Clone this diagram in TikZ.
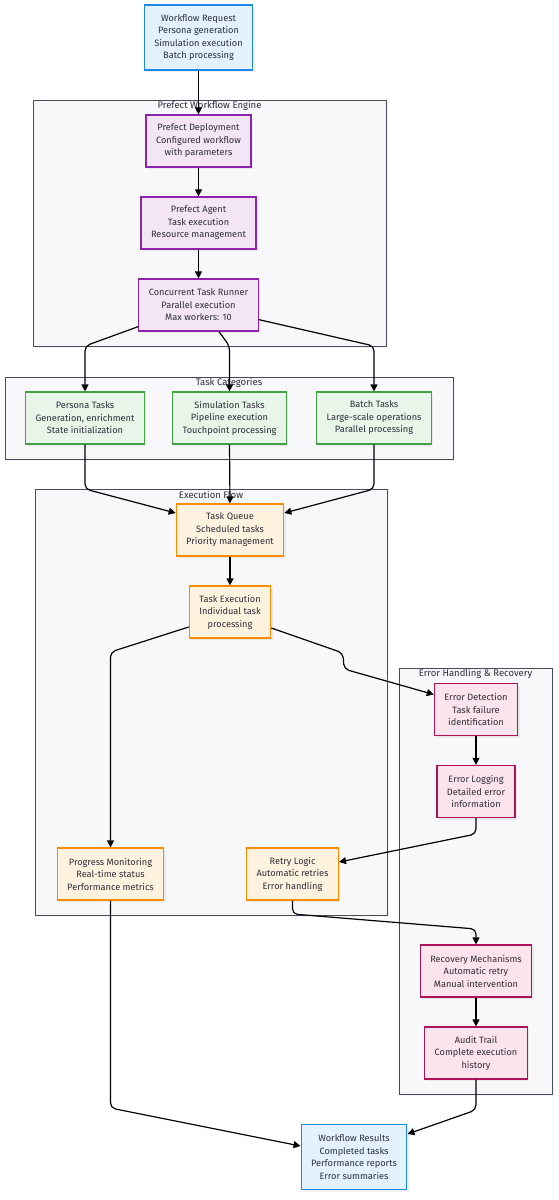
\documentclass[tikz,border=0pt]{standalone}
\usepackage{fontspec}
\setmainfont{Fira Sans}
\usetikzlibrary{arrows.meta,shadows}

\definecolor{bluefill}{HTML}{E3F2FD}
\definecolor{blueline}{HTML}{1E88E5}
\definecolor{purplefill}{HTML}{F3E5F5}
\definecolor{purpleline}{HTML}{8E24AA}
\definecolor{greenfill}{HTML}{E8F5E9}
\definecolor{greenline}{HTML}{43A047}
\definecolor{orangefill}{HTML}{FFF3E0}
\definecolor{orangeline}{HTML}{FB8C00}
\definecolor{pinkfill}{HTML}{FCE4EC}
\definecolor{pinkline}{HTML}{AD1457}
\definecolor{clusterfill}{HTML}{F8F8FB}
\definecolor{clusterline}{HTML}{4A4A60}
\definecolor{textgray}{HTML}{2E2E3A}

\begin{document}
\begin{tikzpicture}[
			x=1pt, y=-1pt, node distance=82pt,
			base/.style={draw, line width=1.2pt, align=center, text=textgray, font=\fontsize{9.2}{12.5}\selectfont, inner xsep=10pt, minimum height=52pt, drop shadow={shadow xshift=2pt, shadow yshift=-2pt, opacity=0.12}},
			endpoint/.style={base, fill=bluefill, draw=blueline, minimum height=65pt},
			engine/.style={base, fill=purplefill, draw=purpleline},
			category/.style={base, fill=greenfill, draw=greenline},
			stage/.style={base, fill=orangefill, draw=orangeline},
			recover/.style={base, fill=pinkfill, draw=pinkline},
			cluster/.style={draw=clusterline, fill=clusterfill, line width=1pt, drop shadow={shadow xshift=2pt, shadow yshift=-2pt, opacity=0.08}},
			clustertitle/.style={font=\fontsize{9.5}{11}\selectfont, text=textgray},
			flow/.style={-{Triangle[length=7pt, width=7pt]}, line width=1.2pt, rounded corners=5pt},
		]

		\useasboundingbox (0,0) rectangle (558,1200);

		% subgraphs
		\draw[cluster] (33,100) rectangle (386,346);
		\draw[cluster] (5,377) rectangle (453,459);
		\draw[cluster] (35,489) rectangle (387,915);
		\draw[cluster] (399,668) rectangle (552,1094);
		\node[clustertitle] (engine-title) at (209.5,106) {Prefect Workflow Engine};
		\node[clustertitle] (category-title) at (229,383) {Task Categories};
		\node[clustertitle] (execution-title) at (211,495) {Execution Flow};
		\node[clustertitle] (error-title) at (475.5,674) {Error Handling \& Recovery};

		\node[endpoint] (request) at (198.5,37.5) {Workflow Request\\Persona generation\\Simulation execution\\Batch processing};
		\node[engine, below of=request, yshift=-21.5pt] (deployment) {Prefect Deployment\\Configured workflow\\with parameters};
		\node[engine, below of=deployment] (agent) {Prefect Agent\\Task execution\\Resource management};
		\node[engine, below of=agent] (runner) {Concurrent Task Runner\\Parallel execution\\Max workers: 10};
		\node[category] (simulation-tasks) at (229.5,418) {Simulation Tasks\\Pipeline execution\\Touchpoint processing};
		\node[category, left of=simulation-tasks, xshift=-62.5pt] (persona-tasks) {Persona Tasks\\Generation, enrichment\\State initialization};
		\node[category, right of=simulation-tasks, xshift=62.5pt] (batch-tasks) {Batch Tasks\\Large-scale operations\\Parallel processing};
		\node[stage] (queue) at (230,530) {Task Queue\\Scheduled tasks\\Priority management};
		\node[stage, below of=queue] (execution) {Task Execution\\Individual task\\processing};
		\node[stage] (monitoring) at (110.5,874) {Progress Monitoring\\Real-time status\\Performance metrics};
		\node[stage, right of=monitoring, xshift=100pt] (retry) {Retry Logic\\Automatic retries\\Error handling};
		\node[recover] (detection) at (476,709.5) {Error Detection\\Task failure\\identification};
		\node[recover, below of=detection] (logging) {Error Logging\\Detailed error\\information};
		\node[recover] (recovery) at (476,971) {Recovery Mechanisms\\Automatic retry\\Manual intervention};
		\node[recover, below of=recovery] (audit) {Audit Trail\\Complete execution\\history};
		\node[endpoint] (results) at (354,1157) {Workflow Results\\Completed tasks\\Performance reports\\Error summaries};

		\draw[flow] (request) -- (deployment);
		\draw[flow] (deployment) -- (agent);
		\draw[flow] (agent) -- (runner);
		\draw[flow] ([yshift=5pt]runner.south west) -- (persona-tasks.north |- 0,346) -- (persona-tasks.north);
		\draw[flow] ([xshift=20.5pt]runner.south) -- (simulation-tasks.north |- 0,346) -- (simulation-tasks.north);
		\draw[flow] ([yshift=12pt]runner.south east) -- (batch-tasks.north |- 0,346) -- (batch-tasks.north);
		\draw[flow] (persona-tasks.south) -- (persona-tasks.south |- 0,489) -- ([yshift=17pt]queue.west);
		\draw[flow] (simulation-tasks.south) -- (queue.north);
		\draw[flow] (batch-tasks.south) -- (batch-tasks.south |- 0,489) -- ([yshift=17pt]queue.east);
		\draw[flow] (queue) -- (execution);
		\draw[flow] ([yshift=-15pt]execution.west) -- (monitoring.north |- 0,652) -- (monitoring.north);
		\draw[flow] ([yshift=-16pt]execution.east) -- (343,653) -- (344,669) -- ([yshift=15pt]detection.west);
		\draw[flow] (detection) -- (logging);
		\draw[flow] (logging.south) -- (logging.south |- 0,834) -- ([yshift=12pt]retry.east);
		\draw[flow] (retry.south) -- (retry.south |- 0,914) -- (recovery.north |- 0,929) -- (recovery.north);
		\draw[flow] (recovery) -- (audit);
		\draw[flow] (monitoring.south) -- (monitoring.south |- 0,1108) -- ([yshift=11pt]results.west);
		\draw[flow] (audit.south) -- (audit.south |- 0,1110) -- ([yshift=23pt]results.east);

		\end{tikzpicture}
\end{document}
